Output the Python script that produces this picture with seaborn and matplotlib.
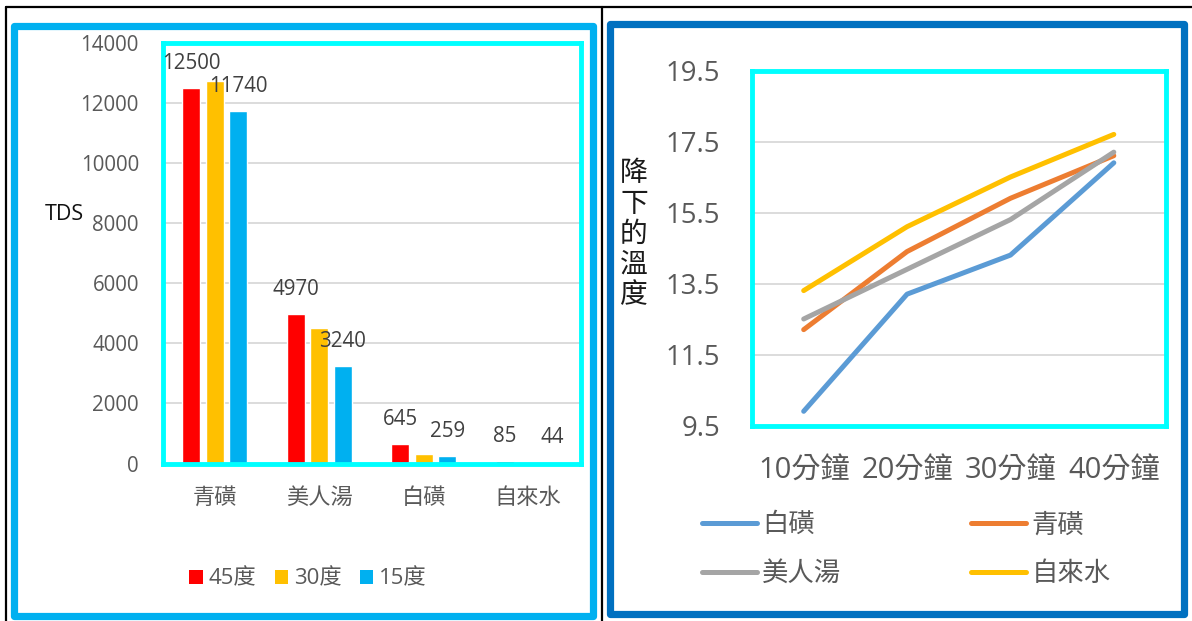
import numpy as np
import pandas as pd
import matplotlib
matplotlib.use("Agg")
import matplotlib.pyplot as plt
from matplotlib.patches import Rectangle, Patch
from matplotlib.lines import Line2D
import seaborn as sns

# TDS of each water sample measured at three temperatures
springs = ["青磺", "美人湯", "白磺", "自來水"]
temps = ["45度", "30度", "15度"]
tds_45 = [12500, 4970, 645, 85]
tds_30 = [12750, 4520, 320, 50]
tds_15 = [11740, 3240, 259, 44]
tds_ticks = [0, 2000, 4000, 6000, 8000, 10000, 12000, 14000]

# temperature drop of each sample over time
minutes = ["10分鐘", "20分鐘", "30分鐘", "40分鐘"]
samples = ["白磺", "青磺", "美人湯", "自來水"]
drop_baiguang = [9.9, 13.2, 14.3, 16.9]
drop_qingguang = [12.2, 14.4, 15.9, 17.1]
drop_meirentang = [12.5, 13.9, 15.3, 17.2]
drop_tapwater = [13.3, 15.1, 16.5, 17.7]
drop_ticks = [9.5, 11.5, 13.5, 15.5, 17.5, 19.5]

bar_colors = ["#FF0000", "#FFC000", "#00B0F0"]
line_colors = ["#5B9BD5", "#ED7D31", "#A5A5A5", "#FFC000"]

sns.set_theme(style="white")
plt.rcParams["font.family"] = ["Open Sans", "Noto Sans CJK TC", "DejaVu Sans"]

W, H = 1192, 621
fig = plt.figure(figsize=(W / 100, H / 100), dpi=100)


def box(x0, y0, x1, y1):
    return [x0 / W, 1 - y1 / H, (x1 - x0) / W, (y1 - y0) / H]


def fx(x):
    return x / W


def fy(y):
    return 1 - y / H


TICK = "#595959"
CYAN = "#00FFFF"

# ---------------- left: grouped bars ----------------
ax1 = fig.add_axes(box(162.5, 43, 580.5, 463.5))
df_tds = pd.DataFrame({
    "spring": springs * 3,
    "temp": np.repeat(temps, len(springs)),
    "tds": tds_45 + tds_30 + tds_15,
})
sns.barplot(data=df_tds, x="spring", y="tds", hue="temp", order=springs,
            hue_order=temps, palette=bar_colors, saturation=1, width=0.675,
            gap=0.23, errorbar=None, legend=False, ax=ax1, zorder=2)
ax1.bar_label(ax1.containers[0], labels=[str(v) for v in tds_45], padding=10,
              fontsize=14.8, color="#404040")
ax1.bar_label(ax1.containers[2], labels=[str(v) for v in tds_15], padding=10,
              fontsize=14.8, color="#404040")
ax1.set_xlim(-0.5, 3.5)
ax1.set_ylim(0, 14000)
ax1.set_yticks(tds_ticks)
ax1.yaxis.grid(True, color="#D9D9D9", lw=1.3)
ax1.set_axisbelow(True)
ax1.axhline(0, color="#BFBFBF", lw=1.2, zorder=1.5)
ax1.tick_params(axis="y", length=0, pad=17, labelsize=14.8, labelcolor=TICK)
ax1.tick_params(axis="x", length=0, pad=17.5, labelsize=16, labelcolor=TICK)
ax1.set_xlabel("")
ax1.set_ylabel("")
for s in ax1.spines.values():
    s.set_color(CYAN)
    s.set_linewidth(3.5)
fig.text(fx(64), fy(215), "TDS", ha="center", va="center", fontsize=15.5,
         color="#111111")
fig.legend(handles=[Patch(facecolor=c, edgecolor="none") for c in bar_colors],
           labels=temps, loc="center", bbox_to_anchor=(fx(308), fy(579)),
           ncol=3, frameon=False, fontsize=16, labelcolor=TICK,
           handlelength=0.6, handleheight=0.6, handletextpad=0.25,
           columnspacing=0.85, borderpad=0, borderaxespad=0)

# ---------------- right: temperature drop lines ----------------
ax2 = fig.add_axes(box(752, 70.5, 1165.5, 425.5))
df_drop = pd.DataFrame({
    "minute": minutes * 4,
    "sample": np.repeat(samples, len(minutes)),
    "drop": drop_baiguang + drop_qingguang + drop_meirentang + drop_tapwater,
})
sns.lineplot(data=df_drop, x="minute", y="drop", hue="sample",
             hue_order=samples, palette=line_colors, sort=False,
             estimator=None, lw=3.6, legend=False, ax=ax2,
             solid_capstyle="round", solid_joinstyle="round")
ax2.set_xlim(-0.5, 3.5)
ax2.set_ylim(9.5, 19.5)
ax2.set_yticks(drop_ticks)
ax2.set_yticklabels([f"{t:.1f}" for t in drop_ticks])
ax2.yaxis.grid(True, color="#D9D9D9", lw=1.3)
ax2.set_axisbelow(True)
ax2.tick_params(axis="y", length=0, pad=23, labelsize=19.8, labelcolor=TICK)
ax2.tick_params(axis="x", length=0, pad=22.5, labelsize=21, labelcolor=TICK)
ax2.set_xlabel("")
ax2.set_ylabel("")
for s in ax2.spines.values():
    s.set_color(CYAN)
    s.set_linewidth(3.5)
fig.text(fx(634), fy(234), "\n".join("降下的溫度"), ha="center", va="center",
         fontsize=20, linespacing=1.02, color="#1a1a1a",
         family=["Noto Sans CJK TC"], fontweight="light")

line_handles = [Line2D([], [], color=c, lw=3.6, solid_capstyle="round")
                for c in line_colors]
order = [0, 2, 1, 3]
fig.legend(handles=[line_handles[i] for i in order],
           labels=[samples[i] for i in order], loc="center",
           bbox_to_anchor=(fx(906), fy(550)), ncol=2, frameon=False,
           fontsize=19, labelcolor=TICK, handlelength=2.1, handletextpad=0.2,
           columnspacing=4.9, labelspacing=0.9, borderpad=0, borderaxespad=0)

# ---------------- panel frames ----------------
fig.add_artist(Rectangle((fx(14), fy(616)), (593 - 14) / W, (616 - 26) / H,
                         transform=fig.transFigure, fill=False,
                         edgecolor="#00B0F0", lw=5.2, joinstyle="round"))
fig.add_artist(Rectangle((fx(609.5), fy(613.5)), (1184 - 609.5) / W,
                         (613.5 - 24) / H, transform=fig.transFigure,
                         fill=False, edgecolor="#0070C0", lw=5.2,
                         joinstyle="round"))
for xs, ys in [((6, 1192), (7, 7)), ((6, 6), (7, 621)),
               ((602, 602), (7, 621))]:
    fig.add_artist(Line2D([fx(x) for x in xs], [fy(y) for y in ys],
                          transform=fig.transFigure, color="black", lw=1.6))

fig.savefig("out.png", dpi=100)
